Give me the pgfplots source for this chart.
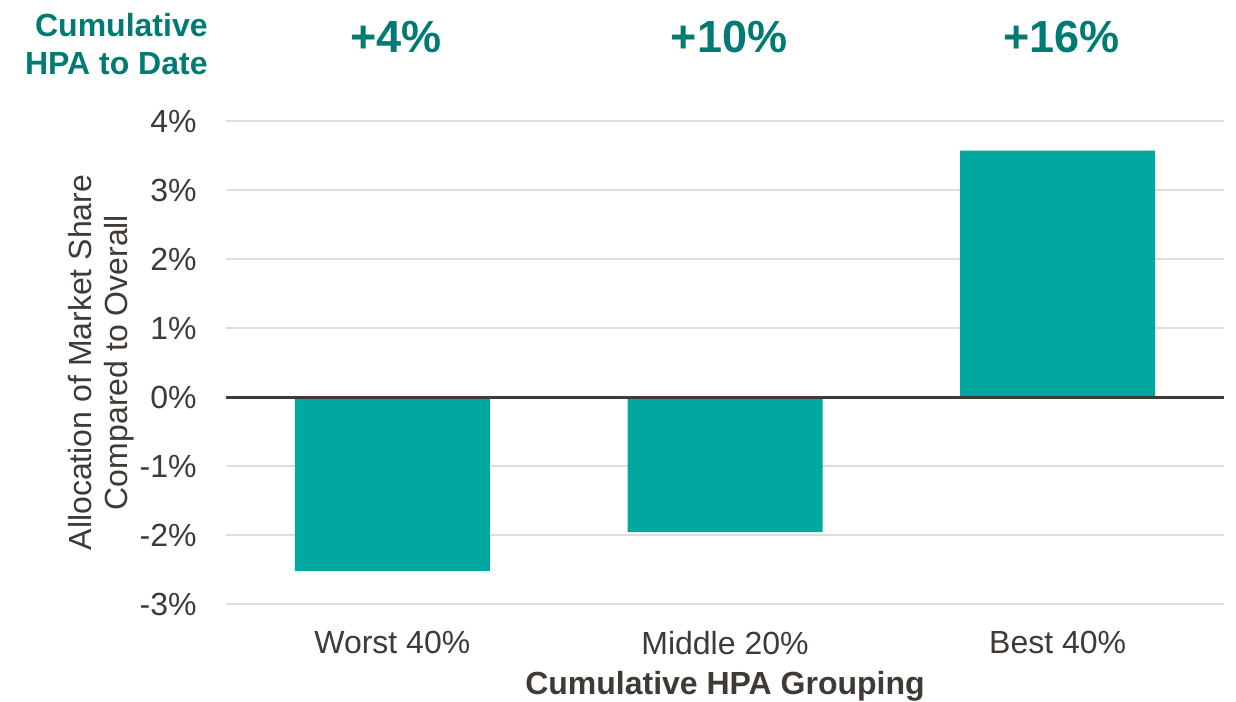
\documentclass[border=0pt]{standalone}
\usepackage{pgfplots}
\pgfplotsset{compat=1.18}
\usepackage{fontspec}
\setmainfont{Liberation Sans}
\definecolor{barteal}{HTML}{00A8A0}
\definecolor{darkteal}{HTML}{007B73}
\definecolor{txtgray}{HTML}{3F3A35}
\definecolor{gridgray}{HTML}{DDDDDD}
\begin{document}
\begin{tikzpicture}
\useasboundingbox (-113pt,-48.5pt) rectangle (505pt,302pt);
\begin{axis}[
  at={(0,0)}, anchor=south west,
  width=499pt, height=241.5pt, scale only axis,
  xmin=-0.5, xmax=2.5, ymin=-3, ymax=4,
  clip=false,
  axis line style={draw=none},
  tick style={draw=none},
  xtick={0,1,2},
  xticklabels={Worst 40\%, Middle 20\%, Best 40\%},
  ytick={-3,-2,-1,0,1,2,3,4},
  yticklabels={-3\%,-2\%,-1\%,0\%,1\%,2\%,3\%,4\%},
  ymajorgrids,
  major grid style={gridgray, line width=1pt},
  ticklabel style={font=\fontsize{16}{19}\selectfont, text=txtgray, inner sep=0pt},
  yticklabel style={anchor=east, xshift=-14.5pt},
  xticklabel style={anchor=north, yshift=-9pt},
  xlabel={Cumulative HPA Grouping},
  xlabel style={at={(axis description cs:0.5,0)}, anchor=north, yshift=-33.5pt, inner sep=0pt,
    font=\fontsize{16}{19}\selectfont\bfseries, text=txtgray},
  ylabel={Allocation of Market Share\\Compared to Overall},
  ylabel style={at={(axis description cs:-0.0912,0.5)}, anchor=south, inner sep=0pt, align=center,
    rotate=0, font=\fontsize{16}{18}\selectfont, text=txtgray},
  ybar, bar width=97.5pt, bar shift=0pt,
]
\addplot[fill=barteal, draw=none] coordinates {(0,-2.52) (1,-1.96) (2,3.57)};
\draw[txtgray, line width=1.5pt] (axis cs:-0.5,0) -- (axis cs:2.5,0);
\node[anchor=base, text=darkteal, font=\fontsize{22.5}{26}\selectfont\bfseries, inner sep=0pt, xshift=2pt] at (axis cs:0,5) {+4\%};
\node[anchor=base, text=darkteal, font=\fontsize{22.5}{26}\selectfont\bfseries, inner sep=0pt, xshift=2pt] at (axis cs:1,5) {+10\%};
\node[anchor=base, text=darkteal, font=\fontsize{22.5}{26}\selectfont\bfseries, inner sep=0pt, xshift=2pt] at (axis cs:2,5) {+16\%};
\node[anchor=base east, text=darkteal, font=\fontsize{16}{19}\selectfont\bfseries, inner sep=0pt] at (axis cs:-0.554,5.232) {Cumulative};
\node[anchor=base east, text=darkteal, font=\fontsize{16}{19}\selectfont\bfseries, inner sep=0pt] at (axis cs:-0.554,4.681) {HPA to Date};
\end{axis}
\end{tikzpicture}
\end{document}
